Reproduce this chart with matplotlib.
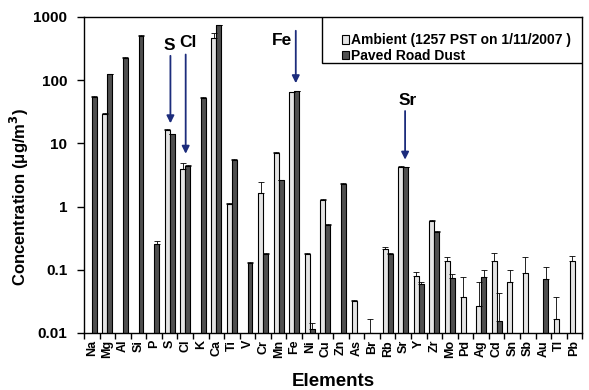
import numpy as np
import matplotlib.pyplot as plt
from matplotlib.patches import Rectangle
from matplotlib.ticker import FixedLocator, NullFormatter

elements = ['Na', 'Mg', 'Al', 'Si', 'P', 'S', 'Cl', 'K', 'Ca', 'Ti', 'V', 'Cr', 'Mn', 'Fe',
            'Ni', 'Cu', 'Zn', 'As', 'Br', 'Rb', 'Sr', 'Y', 'Zr', 'Mo', 'Pd', 'Ag', 'Cd',
            'Sn', 'Sb', 'Au', 'Tl', 'Pb']
nan = np.nan
ambient = [nan, 29, nan, nan, nan, 16.3, 4.0, nan, 470, 1.1, nan, 1.62, 7.1, 64,
           0.178, 1.27, nan, 0.032, 0.0101, 0.21, 4.3, 0.08, 0.6, 0.139, 0.037, 0.027, 0.139,
           0.065, 0.088, nan, 0.0168, 0.139]
ambient_err = [0, 1, 0, 0, 0, 0.8, 0.9, 0, 80, 0.05, 0, 0.8, 0.2, 2,
               0.005, 0.04, 0, 0.001, 0.0064, 0.02, 0.1, 0.013, 0.02, 0.022, 0.041, 0.038, 0.048,
               0.034, 0.069, 0, 0.021, 0.026]
dust = [55, 125, 227, 500, 0.26, 14, 4.4, 53, 750, 5.5, 0.13, 0.18, 2.6, 67,
        0.0117, 0.52, 2.28, nan, nan, 0.18, 4.2, 0.059, 0.40, 0.075, nan, 0.077, 0.0155,
        nan, nan, 0.071, nan, nan]
dust_err = [1, 2, 5, 10, 0.025, 0.3, 0.1, 1, 10, 0.1, 0.002, 0.005, 0.05, 1,
            0.0025, 0.01, 0.05, 0, 0, 0.005, 0.1, 0.006, 0.01, 0.01, 0, 0.022, 0.027,
            0, 0, 0.039, 0, 0]

# arrow callouts: label, arrow x, arrow start y, arrow tip y, text x, text y
callouts = [('S', 5.05, 269, 18.8, 4.96, 348),
            ('Cl', 6.03, 282, 6.2, 6.16, 402),
            ('Fe', 13.1, 670, 81, 12.2, 422),
            ('Sr', 20.12, 36, 5.0, 20.31, 48.6)]

plt.rcParams['font.family'] = ['Liberation Sans', 'DejaVu Sans']
plt.rcParams['font.weight'] = 'bold'

fig = plt.figure(figsize=(5.89, 3.90), dpi=100)
ax = fig.add_axes([84 / 589, 1 - 333 / 390, 498.3 / 589, 316 / 390])

x = np.arange(len(elements))
w = 0.32
amb = np.array(ambient, dtype=float)
dst = np.array(dust, dtype=float)
ea = np.array(ambient_err, dtype=float)
ed = np.array(dust_err, dtype=float)

ax.bar(x - w / 2, amb, w, color='#e4e4e4', edgecolor='black', linewidth=0.8,
       label='Ambient (1257 PST on 1/11/2007 )', zorder=2)
ax.bar(x + w / 2, dst, w, color='#4f4f4f', edgecolor='black', linewidth=0.8,
       label='Paved Road Dust', zorder=2)
ax.errorbar(x - w / 2, amb, yerr=[np.zeros_like(ea), ea], fmt='none', ecolor='black',
            elinewidth=0.6, capsize=2, capthick=0.6, zorder=3)
ax.errorbar(x + w / 2, dst, yerr=[np.zeros_like(ed), ed], fmt='none', ecolor='black',
            elinewidth=0.6, capsize=2, capthick=0.6, zorder=3)

ax.set_yscale('log')
ax.set_ylim(0.01, 1000)
ax.set_xlim(-0.5, len(elements) - 0.5)
ax.set_yticks([0.01, 0.1, 1, 10, 100, 1000])
ax.set_yticklabels(['0.01', '0.1', '1', '10', '100', '1000'], fontsize=11, fontweight='bold')
ax.yaxis.set_minor_locator(FixedLocator([]))
ax.set_xticks(x)
ax.set_xticklabels(elements, rotation=90, fontsize=9, fontweight='bold')
ax.tick_params(axis='x', which='major', length=0, pad=5)
ax.xaxis.set_minor_locator(FixedLocator(np.arange(-0.5, len(elements), 1.0)))
ax.xaxis.set_minor_formatter(NullFormatter())
ax.tick_params(axis='x', which='minor', length=4, width=1)
ax.tick_params(axis='y', which='major', length=5, width=1, pad=7)
for s in ax.spines.values():
    s.set_linewidth(1.0)

ax.set_ylabel('Concentration (\u03bcg/m$^\\mathbf{3}$)', fontsize=12, fontweight='bold')
ax.yaxis.set_label_coords(-0.106, 0.432)
ax.set_xlabel('Elements', fontsize=13.5, fontweight='bold', labelpad=11)

# legend box sits in the top right corner of the axes
ax.add_patch(Rectangle((0.4776, 0.8535), 0.5224, 0.1465, transform=ax.transAxes,
                       facecolor='white', edgecolor='black', linewidth=1.0, zorder=4))
leg = ax.legend(loc='upper left', bbox_to_anchor=(0.517, 0.948), frameon=False,
                borderpad=0, borderaxespad=0, handlelength=0.5, handleheight=0.6,
                handletextpad=0.2, labelspacing=0.1, prop={'weight': 'bold', 'size': 10})
leg.set_zorder(5)

arrow_color = '#1c2c7c'
for name, xa, y0, y1, xt, yt in callouts:
    ax.annotate('', xy=(xa, y1), xytext=(xa, y0),
                arrowprops=dict(arrowstyle='-|>', color=arrow_color, lw=1.3, mutation_scale=11))
    ax.text(xt, yt, name, ha='center', va='center', fontsize=12.5, fontweight='bold')

fig.savefig('out.png', dpi=100)
